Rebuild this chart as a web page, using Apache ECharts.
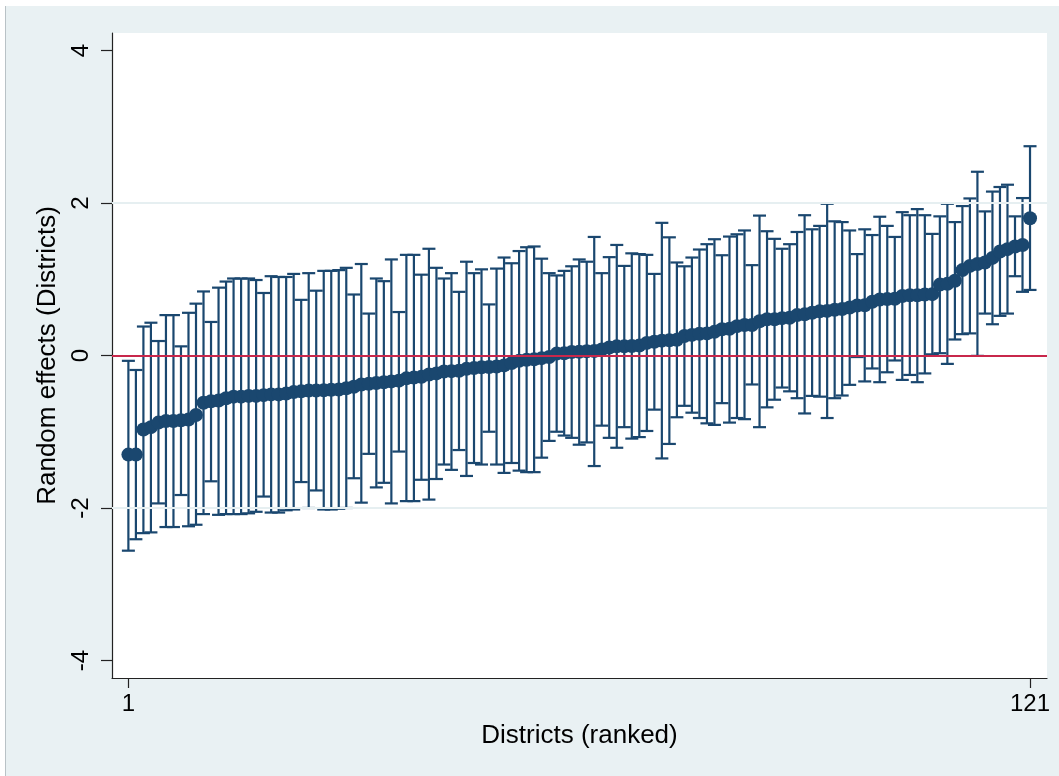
<!DOCTYPE html>
<html>
<head>
<meta charset="utf-8">
<script src="https://cdn.jsdelivr.net/npm/echarts@6/dist/echarts.min.js"></script>
<style>
  html, body { margin: 0; padding: 0; background: #ffffff; }
  #bg { position: absolute; left: 5px; top: 6px; width: 1054px; height: 770px; background: #e9f1f3; border-left: 1px solid #b9c2c6; box-sizing: border-box; }
  #chart { position: absolute; left: 0; top: 0; width: 1059px; height: 776px; }
</style>
</head>
<body>
<div id="bg"></div>
<div id="chart"></div>
<script>
// Ranked district random effects (point estimate) with 95% interval bounds
const estimate = [
  -1.30, -1.30, -0.97, -0.94, -0.88, -0.86, -0.86, -0.85, -0.84, -0.78,
  -0.62, -0.60, -0.59, -0.56, -0.54, -0.54, -0.53, -0.53, -0.52, -0.51,
  -0.51, -0.50, -0.48, -0.47, -0.46, -0.46, -0.455, -0.45, -0.445, -0.43,
  -0.41, -0.38, -0.37, -0.36, -0.35, -0.34, -0.33, -0.30, -0.29, -0.28,
  -0.25, -0.235, -0.21, -0.205, -0.20, -0.175, -0.165, -0.155, -0.15, -0.145,
  -0.13, -0.10, -0.07, -0.055, -0.05, -0.035, -0.02, 0.025, 0.03, 0.045,
  0.05, 0.055, 0.06, 0.08, 0.105, 0.12, 0.12, 0.125, 0.13, 0.165,
  0.18, 0.195, 0.20, 0.205, 0.255, 0.27, 0.285, 0.29, 0.31, 0.345,
  0.35, 0.385, 0.40, 0.40, 0.45, 0.475, 0.475, 0.49, 0.495, 0.53,
  0.54, 0.56, 0.58, 0.585, 0.60, 0.61, 0.63, 0.655, 0.66, 0.705,
  0.735, 0.74, 0.745, 0.78, 0.79, 0.79, 0.80, 0.805, 0.93, 0.94,
  0.98, 1.12, 1.175, 1.20, 1.22, 1.28, 1.365, 1.395, 1.43, 1.45,
  1.80
];
const lower = [
  -2.56, -2.41, -2.33, -2.32, -1.94, -2.25, -2.25, -1.83, -2.24, -2.22,
  -2.08, -1.65, -2.09, -2.08, -2.08, -2.08, -2.07, -2.05, -1.85, -2.06,
  -2.06, -2.03, -2.02, -1.66, -2.00, -1.77, -2.02, -2.02, -2.01, -2.00,
  -1.61, -1.93, -1.29, -1.73, -1.67, -1.94, -1.26, -1.91, -1.91, -1.63,
  -1.89, -1.62, -1.43, -1.50, -1.24, -1.58, -1.41, -1.43, -1.00, -1.43,
  -1.54, -1.41, -1.51, -1.53, -1.53, -1.34, -1.12, -1.00, -1.05, -1.08,
  -1.17, -1.14, -1.45, -0.92, -1.08, -1.21, -0.94, -1.09, -1.07, -0.99,
  -0.71, -1.35, -1.16, -0.81, -0.66, -0.75, -0.82, -0.89, -0.91, -0.625,
  -0.88, -0.82, -0.835, -0.38, -0.94, -0.68, -0.58, -0.42, -0.47, -0.56,
  -0.76, -0.53, -0.54, -0.82, -0.56, -0.525, -0.385, -0.02, -0.34, -0.17,
  -0.35, -0.22, -0.065, -0.32, -0.255, -0.35, -0.235, 0.015, 0.03, -0.11,
  0.21, 0.28, 0.29, -0.005, 0.55, 0.41, 0.52, 0.55, 1.04, 0.835,
  0.86
];
const upper = [
  -0.07, -0.19, 0.38, 0.43, 0.19, 0.53, 0.53, 0.12, 0.56, 0.68,
  0.84, 0.44, 0.89, 0.97, 1.01, 1.01, 1.01, 0.99, 0.82, 1.04,
  1.03, 1.03, 1.07, 0.73, 1.08, 0.85, 1.11, 1.11, 1.12, 1.15,
  0.80, 1.20, 0.55, 1.01, 0.975, 1.26, 0.57, 1.32, 1.32, 1.06,
  1.40, 1.15, 1.01, 1.08, 0.835, 1.23, 1.08, 1.13, 0.67, 1.14,
  1.285, 1.21, 1.37, 1.42, 1.43, 1.27, 1.08, 1.05, 1.11, 1.17,
  1.26, 1.23, 1.555, 1.08, 1.29, 1.45, 1.175, 1.34, 1.33, 1.32,
  1.07, 1.74, 1.55, 1.22, 1.17, 1.285, 1.39, 1.46, 1.525, 1.315,
  1.56, 1.59, 1.64, 1.185, 1.835, 1.63, 1.53, 1.40, 1.46, 1.62,
  1.84, 1.655, 1.70, 1.99, 1.76, 1.75, 1.64, 1.33, 1.655, 1.58,
  1.82, 1.70, 1.555, 1.88, 1.84, 1.92, 1.84, 1.595, 1.825, 1.99,
  1.75, 1.96, 2.06, 2.41, 1.89, 2.15, 2.21, 2.24, 1.825, 2.065,
  2.745
];
const xTickLabels = [1, 121];
const yTickLabels = [-4, -2, 0, 2, 4];
const gridLineValues = [-2, 2];
const refLineValue = 0;

const navy = '#1a476f';
const chart = echarts.init(document.getElementById('chart'), null, { renderer: 'canvas' });

const barData = estimate.map((v, i) => [i + 1, lower[i], upper[i]]);
const pointData = estimate.map((v, i) => [i + 1, v]);

const font = 'Liberation Sans, Arial, Helvetica, sans-serif';

chart.setOption({
  backgroundColor: 'transparent',
  animation: false,
  grid: {
    left: 112, right: 12, top: 33, bottom: 98,
    show: true, backgroundColor: '#ffffff', borderWidth: 0
  },
  xAxis: {
    type: 'value',
    min: -1.18, max: 123.26,
    name: 'Districts (ranked)',
    nameLocation: 'middle',
    nameGap: 45,
    nameTextStyle: { fontSize: 26, color: '#000', fontFamily: font },
    axisLine: { show: true, onZero: false, lineStyle: { color: '#222', width: 1.2 } },
    axisTick: { show: true, length: 10, customValues: xTickLabels, lineStyle: { color: '#222', width: 1.2 } },
    axisLabel: { show: true, customValues: xTickLabels, margin: 14, fontSize: 24, color: '#000', fontFamily: font },
    splitLine: { show: false }
  },
  yAxis: {
    type: 'value',
    min: -4.23, max: 4.23,
    name: 'Random effects (Districts)',
    nameLocation: 'middle',
    nameRotate: 90,
    nameGap: 50,
    nameTextStyle: { fontSize: 26, color: '#000', fontFamily: font },
    axisLine: { show: true, onZero: false, lineStyle: { color: '#222', width: 1.2 } },
    axisTick: { show: true, length: 11, customValues: yTickLabels, lineStyle: { color: '#222', width: 1.2 } },
    axisLabel: { show: true, customValues: yTickLabels, rotate: 90, margin: 19, fontSize: 24, color: '#000', fontFamily: font },
    splitLine: { show: false }
  },
  series: [
    {
      type: 'scatter',
      data: [],
      z: 1,
      silent: true,
      markLine: {
        silent: true,
        symbol: 'none',
        label: { show: false },
        animation: false,
        data: gridLineValues.map(v => ({ yAxis: v, lineStyle: { color: '#e6eff1', width: 2, type: 'solid' } }))
          .concat([{ yAxis: refLineValue, lineStyle: { color: '#c8274b', width: 2, type: 'solid' } }])
      }
    },
    {
      type: 'custom',
      z: 2,
      data: barData,
      encode: { x: 0, y: [1, 2] },
      renderItem: function (params, api) {
        const x = api.value(0);
        const pLo = api.coord([x, api.value(1)]);
        const pHi = api.coord([x, api.value(2)]);
        const hw = 6.5;
        const st = { stroke: navy, lineWidth: 2.2 };
        return {
          type: 'group',
          children: [
            { type: 'line', shape: { x1: pHi[0], y1: pHi[1], x2: pLo[0], y2: pLo[1] }, style: st },
            { type: 'line', shape: { x1: pHi[0] - hw, y1: pHi[1], x2: pHi[0] + hw, y2: pHi[1] }, style: st },
            { type: 'line', shape: { x1: pLo[0] - hw, y1: pLo[1], x2: pLo[0] + hw, y2: pLo[1] }, style: st }
          ]
        };
      }
    },
    {
      type: 'scatter',
      z: 3,
      data: pointData,
      symbol: 'circle',
      symbolSize: 14,
      itemStyle: { color: navy, opacity: 1 }
    }
  ]
});
</script>
</body>
</html>
